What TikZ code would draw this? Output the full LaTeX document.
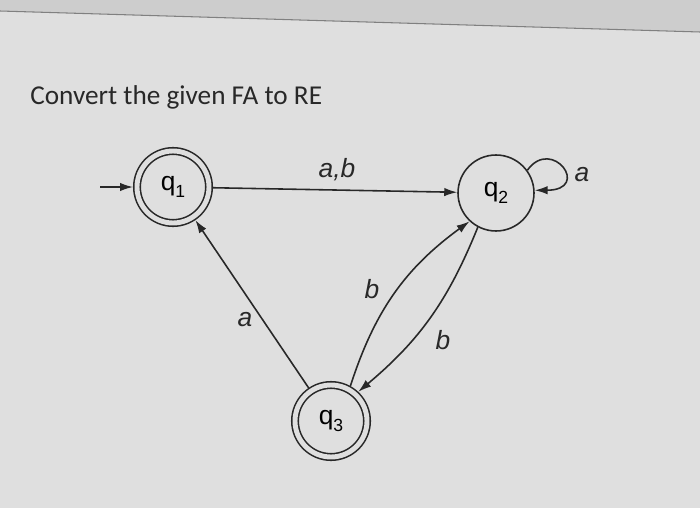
\documentclass[tikz,border=0pt]{standalone}
\usepackage{fontspec}
\setmainfont{Liberation Sans}
\newfontfamily\titlefont{Carlito}
\usepackage{tikz}
\usepackage{xcolor}
\usetikzlibrary{arrows.meta}
\definecolor{screengray}{RGB}{223,223,223}
\definecolor{inkgray}{RGB}{40,40,40}
\newcommand{\stname}[1]{q\raisebox{-0.5ex}{\fontsize{10}{12}\selectfont #1}}

\begin{document}
\begin{tikzpicture}[x=0.02cm,y=0.02cm,
    state/.style={circle, draw=inkgray, line width=0.9pt, minimum size=1.52cm, inner sep=0pt, font=\fontsize{15}{18}\selectfont},
    accepting/.style={state, minimum size=1.44cm, double=screengray, double distance=2.8pt, outer sep=0.8mm},
    trans/.style={draw=inkgray, line width=0.9pt, -{Latex[length=2.6mm,width=1.7mm]}},
    lbl/.style={font=\fontsize{15}{18}\selectfont\itshape, text=inkgray}]
                \fill[screengray] (0,0) rectangle (700,508);
                \useasboundingbox (0,0) rectangle (700,508);
                \fill[screengray!92!black] (0,508) -- (0,497) -- (700,476) -- (700,508) -- cycle;
                \draw[gray, line width=0.6pt] (0,497) -- (700,476);
                \node[anchor=base west, inner sep=0pt, text=inkgray, font=\titlefont\fontsize{15.5}{18}\selectfont] (title) at (30,403) {Convert the given FA to RE};
                \node[accepting] (q1) at (173,321) {\stname{1}};
                \node[state] (q2) at (496,315) {\stname{2}};
                \node[accepting] (q3) at (331,87) {\stname{3}};
                \coordinate (start) at (100,321);
                \draw[trans] (start) -- (q1);
                \draw[trans] (q1) -- (q2);
                \node[lbl] (lab12) at (337,338) {a,b};
                \draw[trans] (q2.36) .. controls (552,372) and (592,318) .. (q2.4);
                \node[lbl] (lab22) at (582,333) {a};
                \draw[trans] (q3) -- (q1);
                \node[lbl] (lab31) at (245,188) {a};
                \draw[trans] (q3.61) to[bend left=18] (q2.227);
                \node[lbl] (lab32) at (372,219) {b};
                \draw[trans] (q2.242) to[bend left=14] (q3.47);
                \node[lbl] (lab23) at (443,168) {b};
            \end{tikzpicture}
\end{document}
